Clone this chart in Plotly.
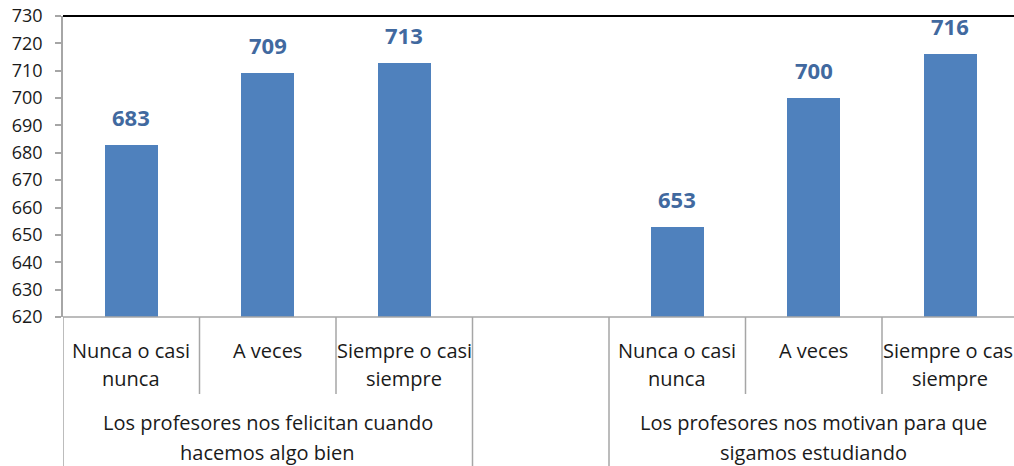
import plotly.graph_objects as go

# data
groups = ["Los profesores nos felicitan cuando\nhacemos algo bien",
          "Los profesores nos motivan para que\nsigamos estudiando"]
responses = ["Nunca o casi\nnunca", "A veces", "Siempre o casi\nsiempre"]
felicitan = [683, 709, 713]
motivan = [653, 700, 716]

y_min, y_max, y_step = 620, 730, 10

bar_color = "#4f81bd"
label_color = "#41699f"
text_color = "#1a1a1a"
line_color = "#a6a6a6"
font_family = "Open Sans"

W, H = 1014, 466
plot_top, plot_bottom = 16, 317  # pixel rows of 730 and 620

# slot positions: 3 bars, one empty slot, 3 bars
series = [felicitan, motivan]
xs, ys = [], []
for g, vals in enumerate(series):
    for i, v in enumerate(vals):
        xs.append(g * 4 + i)
        ys.append(v)

fig = go.Figure()
fig.add_trace(go.Bar(x=xs, y=ys, width=0.39, marker_color=bar_color,
                     marker_line_width=0, showlegend=False, hoverinfo="x+y"))

annotations = []
for x, v in zip(xs, ys):
    annotations.append(dict(x=x, y=v, xref="x", yref="y", text="<b>%d</b>" % v,
                            showarrow=False, yanchor="bottom", yshift=11,
                            font=dict(size=22, color=label_color, family=font_family)))

# category labels under the axis, in paper coords
def py(pix):
    return (plot_bottom - pix) / float(plot_bottom - plot_top)

for g in range(len(groups)):
    for i, r in enumerate(responses):
        for k, line in enumerate(r.split("\n")):
            annotations.append(dict(x=g * 4 + i, y=py(350 + 28 * k), xref="x", yref="paper",
                                    text=line, showarrow=False, yanchor="middle",
                                    font=dict(size=20, color=text_color, family=font_family)))
    for k, line in enumerate(groups[g].split("\n")):
        annotations.append(dict(x=g * 4 + 1, y=py(423 + 29 * k), xref="x", yref="paper",
                                text=line, showarrow=False, yanchor="middle",
                                font=dict(size=20, color=text_color, family=font_family)))

shapes = []
# top border
shapes.append(dict(type="line", xref="paper", yref="paper", x0=0, x1=1, y0=1, y1=1,
                   line=dict(color="#000000", width=2)))
# bottom axis line
shapes.append(dict(type="line", xref="paper", yref="paper", x0=0, x1=1, y0=0, y1=0,
                   line=dict(color=line_color, width=1.5)))
# group dividers (full height) and inner dividers
for b in [-0.5, 2.5, 3.5, 6.5]:
    shapes.append(dict(type="line", xref="x", yref="paper", x0=b, x1=b, y0=0, y1=py(470),
                       line=dict(color=line_color, width=1.5)))
for b in [0.5, 1.5, 4.5, 5.5]:
    shapes.append(dict(type="line", xref="x", yref="paper", x0=b, x1=b, y0=0, y1=py(394),
                       line=dict(color=line_color, width=1.5)))

fig.update_layout(
    width=W, height=H,
    margin=dict(l=63, r=0, t=plot_top, b=H - plot_bottom),
    plot_bgcolor="white", paper_bgcolor="white",
    bargap=0,
    annotations=annotations,
    shapes=shapes,
    xaxis=dict(range=[-0.5, 6.467], showticklabels=False, showgrid=False,
               zeroline=False, showline=False, fixedrange=True, automargin=False),
    yaxis=dict(range=[y_min, y_max], dtick=y_step, tick0=y_min, showgrid=False,
               zeroline=False, showline=True, linecolor=line_color, linewidth=1.5,
               ticks="outside", ticklen=6, tickcolor=line_color, tickwidth=1.5,
               ticklabelstandoff=9, ticklabeloverflow="allow", automargin=False,
               tickfont=dict(size=18, color=text_color, family=font_family)),
)

# drop the default 8px body margin so the figure fills the window exactly
fig.write_html("out.html", config={"displayModeBar": False},
               post_script="document.body.style.margin='0px';")
